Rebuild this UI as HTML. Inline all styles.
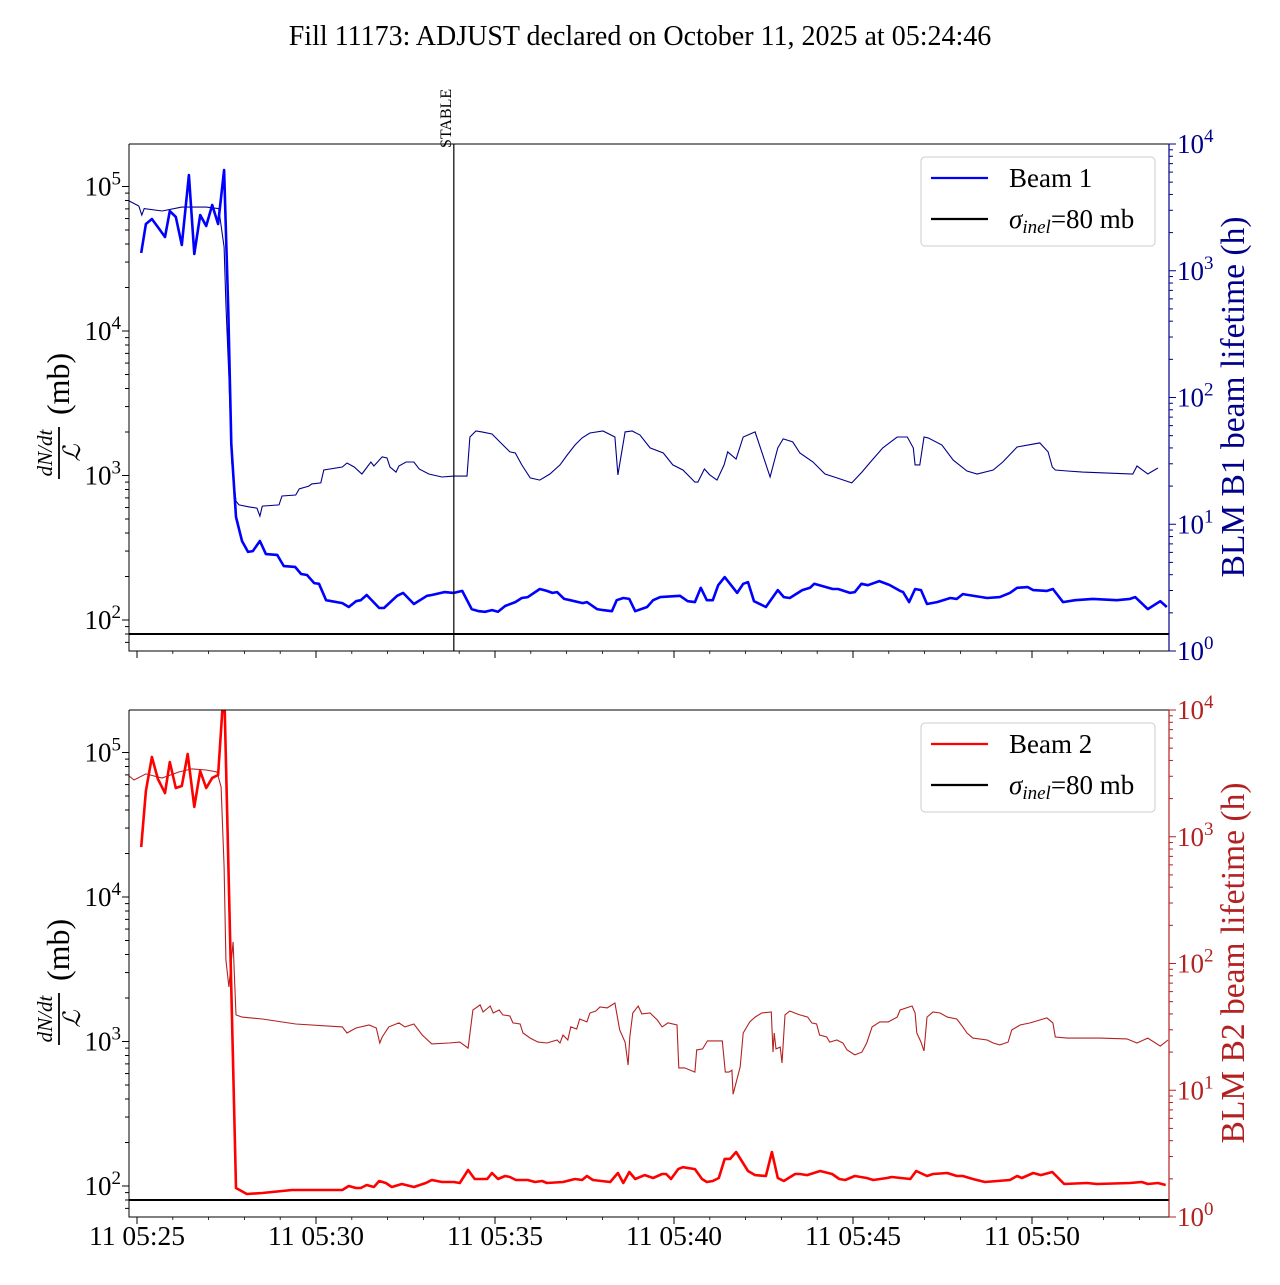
<!DOCTYPE html>
<html><head><meta charset="utf-8"><style>
html,body{margin:0;padding:0;background:#fff;}
svg text{font-family:"Liberation Serif","DejaVu Serif",serif;}
</style></head><body>
<svg id="chart" width="1280" height="1280" viewBox="0 0 1280 1280" xmlns="http://www.w3.org/2000/svg">
<rect x="0" y="0" width="1280" height="1280" fill="#fff"/>
<text x="640" y="45" font-size="28" text-anchor="middle">Fill 11173: ADJUST declared on October 11, 2025 at 05:24:46</text>
<defs>
<clipPath id="clipTop"><rect x="129" y="144" width="1040" height="507"/></clipPath>
<clipPath id="clipBot"><rect x="129" y="710" width="1040" height="507"/></clipPath>
</defs>
<g id="top"></g>
<g id="bot"></g>
</svg>
<script>
// time in seconds since 05:25:00
const xTickLabels = ["11 05:25","11 05:30","11 05:35","11 05:40","11 05:45","11 05:50"];
const xTickSeconds = [0,300,600,900,1200,1500];
const sigmaInel = 80;
const stableSecond = 531;

const b1Times = [7,15,25,35,47,55,65,75,87,96,106,116,126,136,146,153,158,166,176,186,194,206,216,235,246,265,275,285,297,305,317,344,355,367,375,385,406,414,436,446,464,486,494,515,531,545,561,573,583,595,605,617,634,645,655,675,687,696,704,716,726,747,754,771,781,796,804,815,825,835,855,865,877,910,923,935,945,955,965,974,985,1006,1016,1024,1034,1054,1074,1084,1094,1115,1128,1135,1166,1175,1195,1203,1214,1225,1244,1262,1279,1284,1294,1304,1314,1324,1341,1363,1374,1384,1425,1446,1463,1475,1493,1502,1525,1535,1552,1572,1602,1642,1664,1673,1694,1715,1726];
const b1Values = [34700,55000,59600,52400,44700,67600,61600,39400,120000,34100,63500,53300,74500,55000,130000,13700,1650,516,352,296,300,352,286,282,236,233,208,205,180,178,137,131,123,135,137,149,121,121,147,154,129,147,149,156,154,159,119,115,114,117,114,125,133,142,144,164,159,154,156,140,137,131,133,119,117,115,137,142,140,115,123,137,144,147,135,133,167,137,137,174,198,154,178,183,135,123,161,144,142,161,167,178,164,164,154,156,178,174,186,174,159,156,133,164,161,129,133,142,140,151,142,144,154,167,169,161,159,164,133,137,140,137,140,144,119,135,123];

const blm1Times = [-13,3,8,12,42,75,116,137,146,149,154,159,166,171,188,201,206,210,238,243,266,272,288,293,308,313,344,352,364,377,392,397,411,419,424,434,439,451,464,473,489,511,531,553,558,568,578,595,608,625,634,645,659,675,692,709,721,734,746,759,781,801,806,818,830,843,860,882,898,915,935,940,951,960,972,984,990,1004,1016,1036,1061,1074,1083,1099,1111,1133,1153,1173,1198,1215,1232,1250,1274,1291,1301,1304,1312,1319,1326,1349,1368,1391,1408,1435,1451,1475,1513,1527,1534,1539,1559,1585,1669,1676,1694,1711,1728];
const blm1Values = [3550,3240,2750,3090,2960,3180,3180,3090,1540,548,145,29.9,15.2,14.2,13.7,13.4,11.6,13.9,14.2,16.7,17.0,19.0,20.0,20.8,21.2,26.8,28.3,30.4,28.3,24.9,31.0,28.8,34.0,33.3,28.3,25.8,28.8,31.0,31.0,27.3,24.9,23.6,24.0,24.0,48.8,54.4,53.5,51.5,44.6,37.2,36.5,29.4,23.2,22.3,24.9,29.4,35.2,42.2,48.0,52.5,54.4,48.8,24.5,53.5,54.4,50.6,40.0,36.5,29.4,26.8,21.5,21.5,27.3,24.5,22.3,29.4,37.2,32.7,48.8,53.5,23.6,40.0,47.1,44.6,36.5,31.0,24.9,23.2,21.2,25.8,32.1,40.0,48.8,48.8,40.0,29.4,29.4,48.8,48.0,42.2,32.1,26.3,24.9,26.8,31.0,40.7,43.8,37.2,28.3,26.8,26.3,25.8,24.9,28.8,24.9,27.8];

const b2Times = [7,15,25,35,47,55,65,75,85,96,106,116,126,136,146,166,184,210,260,344,355,367,375,385,397,406,417,427,444,464,484,494,511,531,541,555,566,587,595,605,617,625,635,655,667,679,687,714,734,746,754,764,793,806,815,825,835,851,865,880,887,895,907,915,935,947,955,965,975,985,994,1004,1024,1036,1054,1064,1074,1084,1103,1111,1123,1145,1165,1177,1187,1203,1223,1234,1257,1265,1296,1306,1324,1334,1358,1374,1384,1401,1421,1463,1475,1483,1502,1515,1534,1554,1592,1609,1664,1684,1694,1711,1724];
const b2Values = [22200,54200,93100,65600,52400,85900,56800,58600,97700,42000,74500,56800,66700,69900,300000,96.9,88.1,89.4,93.8,93.8,100,96.9,96.9,101.6,98.4,108.3,104.9,98.4,103.2,98.4,104.9,110,106.6,106.6,104.9,129,111.8,111.8,123,111.8,117.3,115.4,110,110,106.6,108.3,104.9,106.6,111.8,110,117.3,110,106.6,123,104.9,125,111.8,119,113.6,121,121,111.8,131,135,131,111.8,106.6,108.3,113.6,154,154,172,127,119,117.3,172,113.6,108.3,121,121,119,127,121,111.8,110,117.3,113.6,110,113.6,115.4,111.8,127,117.3,121,123,117.3,117.3,111.8,106.6,110,117.3,113.6,123,119,125,103.2,104.9,103.2,104.9,106.6,103.2,104.9,101.6];

const blm2Times = [-13,-5,15,42,70,92,116,134,141,146,149,154,161,163,166,176,210,266,344,352,367,389,401,407,411,422,439,449,464,478,494,523,541,555,563,575,580,592,597,607,613,625,630,642,647,659,672,687,704,709,714,722,727,737,742,754,759,769,776,788,801,809,818,823,826,831,840,846,860,872,880,890,905,908,918,935,938,948,956,981,986,992,997,999,1011,1016,1027,1036,1047,1063,1066,1068,1071,1078,1081,1086,1094,1106,1111,1124,1131,1139,1144,1156,1161,1173,1183,1190,1203,1215,1223,1232,1245,1259,1274,1279,1299,1304,1307,1314,1319,1324,1334,1346,1358,1374,1384,1391,1401,1425,1435,1446,1460,1466,1480,1497,1513,1525,1535,1539,1559,1614,1659,1676,1694,1715,1728];
const blm2Values = [3015,2805,3130,2910,3245,3430,3365,3245,2470,578,107,65.3,148,84.1,39.3,37.8,36.5,33.3,31.6,28.3,31.0,32.7,31.0,23.6,26.3,31.6,34.0,31.6,33.3,27.3,23.2,23.6,24.0,21.5,43.0,47.1,41.4,46.2,40.7,43.0,39.3,38.5,34.0,33.3,28.3,25.8,24.0,23.6,24.9,23.6,27.3,24.9,31.6,30.4,36.5,34.6,40.7,42.2,45.4,44.6,48.8,29.9,24.0,15.8,26.3,40.7,46.2,40.0,40.7,35.8,31.6,34.0,32.7,15.0,15.0,13.9,20.8,21.2,24.5,24.5,13.9,13.9,14.4,9.3,15.3,28.3,34.6,37.8,40.7,41.4,20.0,28.3,21.2,21.9,16.4,39.3,42.2,40.0,39.3,37.8,34.0,33.3,27.3,26.3,24.0,24.9,23.6,20.8,19.0,20.0,23.6,31.6,34.6,34.6,37.8,43.0,46.2,40.7,28.3,24.0,20.4,37.8,41.4,40.7,37.8,36.5,31.6,28.3,25.8,24.9,23.6,22.8,24.0,29.9,32.7,34.0,35.8,37.2,34.0,26.3,25.8,25.8,25.4,23.6,25.8,22.3,24.9];

const NS = "http://www.w3.org/2000/svg";
const X0 = 129, X1 = 1169;
function xs(t){ return 137 + t/60*35.8; }
function mk(parent, tag, attrs){
  const e = document.createElementNS(NS, tag);
  for (const k in attrs) e.setAttribute(k, attrs[k]);
  parent.appendChild(e); return e;
}
function sup(parent, x, y, exp, anchor, color, name){
  const t = mk(parent, 'text', {x:x, y:y, 'font-size':27, 'text-anchor':anchor, fill:color});
  
  
  const a = document.createElementNS(NS,'tspan'); a.textContent = '10'; t.appendChild(a);
  const b = document.createElementNS(NS,'tspan'); b.setAttribute('dy','-11'); b.setAttribute('font-size','19'); b.textContent = String(exp); t.appendChild(b);
  return t;
}

function panel(g, top, cfg){
  const bot = top + 507;
  const yl = v => (top + 476) - (Math.log10(v) - 2) * 144.5;
  const yr = v => bot - Math.log10(v) * 126.75;
  const clip = cfg.clip;

  const sl = mk(g, 'line', {x1:X0, x2:X1, y1:yl(sigmaInel), y2:yl(sigmaInel), stroke:'#000', 'stroke-width':2});
  
  

  let d = '';
  cfg.blmT.forEach((t,i)=>{ d += (i?'L':'M') + xs(t).toFixed(1) + ',' + yr(cfg.blmV[i]).toFixed(1); });
  const bl = mk(g, 'path', {d:d, fill:'none', stroke:cfg.rcol, 'stroke-width':1.1, 'clip-path':'url(#'+clip+')'});
  
  

  d = '';
  cfg.bT.forEach((t,i)=>{ d += (i?'L':'M') + xs(t).toFixed(1) + ',' + yl(cfg.bV[i]).toFixed(1); });
  const bp = mk(g, 'path', {d:d, fill:'none', stroke:cfg.col, 'stroke-width':2.6, 'stroke-linejoin':'round', 'clip-path':'url(#'+clip+')'});
  
  

  if (cfg.stable){
    const sx = xs(stableSecond);
    const ln = mk(g, 'line', {x1:sx, x2:sx, y1:top, y2:bot, stroke:'#000', 'stroke-width':1.2});
    
    
    const st = mk(g, 'text', {x:0, y:0, 'font-size':16, transform:'translate('+(sx-3)+','+(top+4)+') rotate(-90)'});
    st.textContent = 'STABLE';
    
    
  }

  const fr = mk(g, 'path', {d:'M'+X0+','+top+'H'+X1+'M'+X0+','+top+'V'+bot+'H'+X1, fill:'none', stroke:'#000', 'stroke-width':1});
  
  
  const rs = mk(g, 'line', {x1:X1, x2:X1, y1:top, y2:bot, stroke:cfg.rcol, 'stroke-width':1.2});
  
  

  for (let e = 1; e <= 5; e++){
    for (let m = 1; m <= 9; m++){
      const v = m * Math.pow(10, e);
      const y = yl(v);
      if (y < top - 0.5 || y > bot + 0.5) continue;
      const tk = mk(g, 'line', {x1:X0 - (m===1?7:4), x2:X0, y1:y, y2:y, stroke:'#000', 'stroke-width':1});
      
      
      if (m === 1 && e >= 2) sup(g, 121, y + 9, e, 'end', '#000', 'left-tick-label');
    }
  }
  for (let e = 0; e <= 4; e++){
    for (let m = 1; m <= 9; m++){
      const v = m * Math.pow(10, e);
      const y = yr(v);
      if (y < top - 0.5 || y > bot + 0.5) continue;
      const tk = mk(g, 'line', {x1:X1, x2:X1 + (m===1?7:4), y1:y, y2:y, stroke:cfg.rcol, 'stroke-width':1});
      
      
      if (m === 1) sup(g, 1177, y + 9, e, 'start', cfg.rcol, 'right-tick-label');
    }
  }
  xTickSeconds.forEach((s,i)=>{
    const x = xs(s);
    const tk = mk(g, 'line', {x1:x, x2:x, y1:bot, y2:bot+7, stroke:'#000', 'stroke-width':1});
    
    
    if (cfg.xlabels){
      const tl = mk(g, 'text', {x:x, y:bot+28, 'font-size':27.5, 'text-anchor':'middle'});
      tl.textContent = xTickLabels[i];
      
      
    }
  });
  for (let s = 0; s <= 1740; s += 60){
    if (s % 300 === 0) continue;
    const x = xs(s); if (x > X1) break;
    const tk = mk(g, 'line', {x1:x, x2:x, y1:bot, y2:bot+3, stroke:'#000', 'stroke-width':0.8});
    
    
  }

  const cy = top + 253;
  const lg = mk(g, 'g', {transform:'translate(62,'+cy+') rotate(-90)'});
  
  
  const n1 = mk(lg, 'text', {x:-56, y:-10, 'font-size':21, 'font-style':'italic', 'text-anchor':'middle'});
  n1.textContent = 'dN/dt';
  mk(lg, 'line', {x1:-82, x2:-30, y1:-3, y2:-3, stroke:'#000', 'stroke-width':1.8});
  const n2 = mk(lg, 'text', {x:-56, y:18, 'font-size':24, 'font-style':'italic', 'text-anchor':'middle'});
  n2.textContent = 'ℒ';
  const n3 = mk(lg, 'text', {x:-18, y:7, 'font-size':32, 'text-anchor':'start'});
  n3.textContent = '(mb)';

  const rt = mk(g, 'text', {x:0, y:0, 'font-size':33.5, fill:cfg.rcol, 'text-anchor':'middle', transform:'translate(1244,'+cy+') rotate(-90)'});
  rt.textContent = cfg.rlabel;
  
  

  const lgd = mk(g, 'g', {});
  
  
  mk(lgd, 'rect', {x:921, y:top+13, width:234, height:89, rx:4, fill:'#fff', 'fill-opacity':0.8, stroke:'#ccc', 'stroke-width':1});
  const e1 = mk(lgd, 'g', {});
  
  
  mk(e1, 'line', {x1:931, x2:988, y1:top+34, y2:top+34, stroke:cfg.col, 'stroke-width':2.2});
  const lt1 = mk(e1, 'text', {x:1009, y:top+43, 'font-size':27});
  lt1.textContent = cfg.legend;
  const e2 = mk(lgd, 'g', {});
  
  
  mk(e2, 'line', {x1:931, x2:988, y1:top+75, y2:top+75, stroke:'#000', 'stroke-width':2.2});
  const lt2 = mk(e2, 'text', {x:1009, y:top+84, 'font-size':27});
  const s1 = document.createElementNS(NS,'tspan'); s1.setAttribute('font-style','italic'); s1.textContent='σ'; lt2.appendChild(s1);
  const s2 = document.createElementNS(NS,'tspan'); s2.setAttribute('font-style','italic'); s2.setAttribute('font-size','19'); s2.setAttribute('dy','5'); s2.textContent='inel'; lt2.appendChild(s2);
  const s3 = document.createElementNS(NS,'tspan'); s3.setAttribute('dy','-5'); s3.textContent='=80 mb'; lt2.appendChild(s3);
}

panel(document.getElementById('top'), 144, {clip:'clipTop', col:'#0000ff', rcol:'#00008b', bT:b1Times, bV:b1Values, blmT:blm1Times, blmV:blm1Values, beamName:'beam1-line', blmName:'blm-b1-lifetime-line', stable:true, xlabels:false, rlabel:'BLM B1 beam lifetime (h)', legend:'Beam 1'});
panel(document.getElementById('bot'), 710, {clip:'clipBot', col:'#ff0000', rcol:'#b22222', bT:b2Times, bV:b2Values, blmT:blm2Times, blmV:blm2Values, beamName:'beam2-line', blmName:'blm-b2-lifetime-line', stable:false, xlabels:true, rlabel:'BLM B2 beam lifetime (h)', legend:'Beam 2'});
</script>
</body></html>
